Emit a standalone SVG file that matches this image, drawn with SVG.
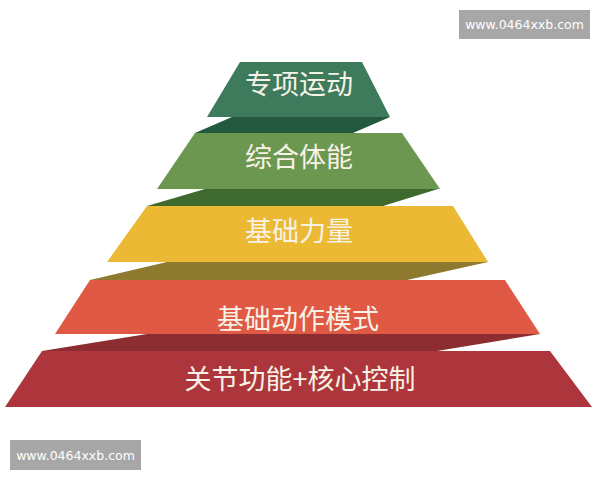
<svg xmlns="http://www.w3.org/2000/svg" width="600" height="480" viewBox="0 0 600 480">
  <style>
    .lbl { font-family: "Noto Sans CJK SC", "Noto Sans", sans-serif; font-size: 27px; fill: #f7f2e6; text-anchor: middle; }
    .wm rect { fill: #a7a7a7; }
    .wm text { font-family: "DejaVu Sans", "Liberation Sans", sans-serif; font-size: 12.5px; fill: #ffffff; text-anchor: middle; }
  </style>
  <rect width="600" height="480" fill="#ffffff"/>
  <g id="folds">
    <polygon points="232,117 390,117 353,133 195,133" fill="#24583f"/>
    <polygon points="205,189 438,189 383,206 147,206" fill="#3e6a2f"/>
    <polygon points="167,262 488,262 407,280 90,280" fill="#8e7a2e"/>
    <polygon points="147,334 540,334 437,351 42,351" fill="#8c2e31"/>
  </g>
  <g id="level5">
    <polygon points="240,62 362,62 390,117 207,117" fill="#3d7b5c"/>
    <text class="lbl" x="299" y="94">专项运动</text>
  </g>
  <g id="level4">
    <polygon points="195,133 402,133 440,189 157,189" fill="#6b9750"/>
    <text class="lbl" x="299" y="167">综合体能</text>
  </g>
  <g id="level3">
    <polygon points="147,206 453,206 488,262 107,262" fill="#ebb934"/>
    <text class="lbl" x="299" y="241">基础力量</text>
  </g>
  <g id="level2">
    <polygon points="90,280 505,280 540,334 55,334" fill="#e05944"/>
    <text class="lbl" x="298" y="329">基础动作模式</text>
  </g>
  <g id="level1">
    <polygon points="42,351 550,351 592,407 5,407" fill="#ac363c"/>
    <text class="lbl" x="300" y="389">关节功能+核心控制</text>
  </g>
  <g id="watermark-top" class="wm">
    <rect x="459" y="10" width="131" height="29"/>
    <text x="524.5" y="29">www.0464xxb.com</text>
  </g>
  <g id="watermark-bottom" class="wm">
    <rect x="10" y="440" width="131" height="30"/>
    <text x="75.5" y="460">www.0464xxb.com</text>
  </g>
</svg>
